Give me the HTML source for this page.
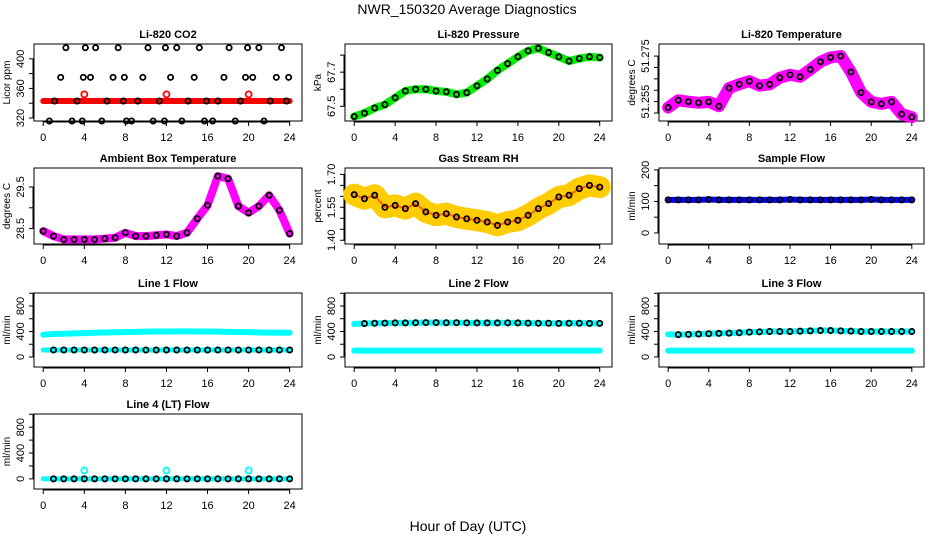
<!DOCTYPE html>
<html><head><meta charset="utf-8"><style>
html,body{margin:0;padding:0;background:#fff;}
svg{display:block;font-family:"Liberation Sans",sans-serif;}
</style></head><body>
<svg id="chart" width="936" height="540" viewBox="0 0 936 540">
<text x="467" y="14" text-anchor="middle" font-size="14">NWR_150320  Average Diagnostics</text>
<text x="468" y="531" text-anchor="middle" font-size="14">Hour of Day (UTC)</text>
</svg>
<script>
const hours = [0,1,2,3,4,5,6,7,8,9,10,11,12,13,14,15,16,17,18,19,20,21,22,23,24];
const xTicks = [0,4,8,12,16,20,24];
const co2Red = [343,343,343,343,343,343,343,343,343,343,343,343,343,343,343,343,343,343,343,343,343,343,343,343,343];
const co2RedOutX = [4,12,20];
const co2RedOutY = [352,352,352];
const co2BlackX = [0.6,1.1,1.7,2.2,2.8,3.3,3.8,3.9,4.1,4.6,5.1,5.7,6.2,6.8,7.3,7.8,7.9,8.1,8.6,9.2,9.7,10.2,10.7,11.3,11.8,11.9,12.4,13.0,13.5,14.1,14.7,15.2,15.7,15.9,16.5,17.0,17.6,18.1,18.7,19.2,19.7,19.9,20.4,21.0,21.5,22.1,22.7,23.2,23.7,23.9];
const co2BlackY = [316,343,375,415,316,343,316,375,415,375,415,316,343,375,415,343,375,316,316,343,375,415,316,343,316,415,375,415,316,343,375,415,316,343,316,343,375,415,316,343,375,415,375,415,316,343,375,415,343,375];
const pressure = [67.44,67.46,67.49,67.51,67.55,67.59,67.60,67.60,67.59,67.585,67.57,67.58,67.62,67.66,67.71,67.75,67.79,67.825,67.84,67.815,67.79,67.765,67.78,67.79,67.786];
const liTemp = [51.2524,51.2556,51.2550,51.2545,51.2549,51.2530,51.2610,51.2626,51.2640,51.2620,51.2626,51.2655,51.2668,51.2659,51.2691,51.2725,51.2744,51.2750,51.2680,51.2590,51.2549,51.2540,51.2549,51.2495,51.2482];
const ambTemp = [28.44,28.32,28.24,28.24,28.24,28.24,28.26,28.28,28.40,28.32,28.32,28.34,28.36,28.32,28.40,28.74,29.06,29.76,29.70,29.04,28.88,29.04,29.30,28.94,28.38];
const gasRH = [1.608,1.589,1.605,1.550,1.559,1.544,1.567,1.529,1.514,1.521,1.506,1.498,1.491,1.483,1.468,1.483,1.491,1.514,1.544,1.567,1.597,1.605,1.635,1.650,1.642];
const sampleFlow = [105,105,105,105,106,105,105,105,105,105,105,105,106,105,105,105,105,105,105,105,106,105,105,105,105];
const line1Upper = [350,360,365,370,375,380,385,388,390,395,398,400,400,402,402,400,400,398,395,392,390,385,382,380,380];
const line1Lower = [110,110,110,110,110,110,110,110,110,110,110,110,110,110,110,110,110,110,110,110,110,110,110,110,110];
const line2Upper = [520,525,530,532,535,535,538,540,540,538,538,536,535,535,535,536,535,532,530,530,528,530,530,528,528];
const line2Lower = [100,100,100,100,100,100,100,100,100,100,100,100,100,100,100,100,100,100,100,100,100,100,100,100,100];
const line3Upper = [355,350,355,360,365,370,375,380,390,395,400,400,400,405,410,415,415,410,405,400,400,400,400,400,400];
const line3Lower = [100,100,100,100,100,100,100,100,100,100,100,100,100,100,100,100,100,100,100,100,100,100,100,100,100];
const line4Flow = [0,0,0,0,0,0,0,0,0,0,0,0,0,0,0,0,0,0,0,0,0,0,0,0,0];
const line4OutX = [4,12,20];
const line4OutY = [130,130,130];

const NS="http://www.w3.org/2000/svg";
const svg=document.getElementById('chart');
function el(tag,attrs,parent){const e=document.createElementNS(NS,tag);for(const k in attrs)e.setAttribute(k,attrs[k]);(parent||svg).appendChild(e);return e;}
const cols=[[34,302],[345,612],[659,924]];
const rows=[[44,121],[168,244],[293,367],[414,489]];

function panel(name,c,r,title,ytitle,ymin,ymax,yticks,ylabels){
  const g=el('g',{});
  
  
  const [L,R]=cols[c],[T,B]=rows[r];
  const xs=v=>L+(v+0.9)/26.1*(R-L);
  const ys=v=>B-(v-ymin)/(ymax-ymin)*(B-T);
  const box=el('rect',{x:L,y:T,width:R-L,height:B-T,fill:'none',stroke:'#000','stroke-width':1},g);
  
  
  const t=el('text',{x:(L+R)/2,y:T-6,'text-anchor':'middle','font-size':11,'font-weight':'bold'},g);
  t.textContent=title;
  
  
  el('line',{x1:xs(0),x2:xs(24),y1:B+1,y2:B+1,stroke:'#000'},g);
  xTicks.forEach(v=>{
    el('line',{x1:xs(v),x2:xs(v),y1:B,y2:B+5,stroke:'#000'},g);
    const tl=el('text',{x:xs(v),y:B+20,'text-anchor':'middle','font-size':11},g);
    tl.textContent=v;
    
    
  });
  el('line',{x1:L-1,x2:L-1,y1:ys(yticks[0]),y2:ys(yticks[yticks.length-1]),stroke:'#000'},g);
  yticks.forEach((v,i)=>{
    el('line',{x1:L-5,x2:L,y1:ys(v),y2:ys(v),stroke:'#000'},g);
    if(ylabels[i]!==''){
      const yl=el('text',{x:0,y:0,'text-anchor':'middle','font-size':11,transform:`translate(${L-10},${ys(v)}) rotate(-90)`},g);
      yl.textContent=ylabels[i];
      
      
    }
  });
  const yt=el('text',{x:0,y:0,'text-anchor':'middle','font-size':10,transform:`translate(${L-24},${(T+B)/2}) rotate(-90)`},g);
  yt.textContent=ytitle;
  
  
  return {g,xs,ys};
}
function band(p,xv,yv,color,w,name){
  const pts=xv.map((x,i)=>p.xs(x)+','+p.ys(yv[i])).join(' ');
  const pl=el('polyline',{points:pts,fill:'none',stroke:color,'stroke-width':w,'stroke-linejoin':'round','stroke-linecap':'round'},p.g);
  
  
}
function pts(p,xv,yv,color,r,name){
  xv.forEach((x,i)=>{
    const c=el('circle',{cx:p.xs(x),cy:p.ys(yv[i]),r:r,fill:'none',stroke:color,'stroke-width':1.8},p.g);
    
    
  });
}
const flowTicks=[0,200,400,600,800,1000], flowLabels=['0','','400','','800',''];

let p=panel('panel-co2',0,0,'Li-820 CO2','Licor ppm',316,420,[320,340,360,380,400],['320','','360','','400']);
band(p,hours,co2Red,'#ff0000',6,'co2-red-band');
pts(p,co2RedOutX,co2RedOutY,'#ff0000',3,'co2-red-point');
pts(p,co2BlackX,co2BlackY,'#000',2.6,'co2-black-point');

p=panel('panel-pressure',1,0,'Li-820 Pressure','kPa',67.414,67.865,[67.5,67.6,67.7,67.8],['67.5','','67.7','']);
band(p,hours,pressure,'#00ee00',8,'pressure-green-band');
pts(p,hours,pressure,'#000',2.6,'pressure-black-point');

p=panel('panel-li-temperature',2,0,'Li-820 Temperature','degrees C',51.2465,51.2803,[51.25,51.255,51.26,51.265,51.27,51.275],['','51.255','','','','51.275']);
band(p,hours,liTemp,'#ff00ff',12,'litemp-magenta-band');
pts(p,hours,liTemp,'#000',2.6,'litemp-black-point');

p=panel('panel-ambient-temperature',0,1,'Ambient Box Temperature','degrees C',28.13,29.956,[28.5,29.0,29.5],['28.5','','29.5']);
band(p,hours,ambTemp,'#ff00ff',8,'ambient-magenta-band');
pts(p,hours,ambTemp,'#000',2.6,'ambient-black-point');

p=panel('panel-gas-rh',1,1,'Gas Stream RH','percent',1.383,1.729,[1.40,1.45,1.50,1.55,1.60,1.65,1.70],['1.40','','','1.55','','','1.70']);
band(p,hours,gasRH,'#ffcc00',22,'rh-yellow-band');
band(p,hours,gasRH,'#ff6600',2,'rh-orange-trace');
pts(p,hours,gasRH,'#000',2.6,'rh-black-point');

p=panel('panel-sample-flow',2,1,'Sample Flow','ml/min',-35,206,[0,50,100,150,200],['0','','100','','200']);
band(p,hours,sampleFlow,'#0000ff',6,'sample-blue-band');
pts(p,hours,sampleFlow,'#000',2.6,'sample-black-point');

p=panel('panel-line1-flow',0,2,'Line 1 Flow','ml/min',-157,1004,flowTicks,flowLabels);
band(p,hours,line1Upper,'#00ffff',6,'line1-cyan-upper');
band(p,hours,line1Lower,'#00ffff',5,'line1-cyan-lower');
pts(p,hours.slice(1),line1Lower.slice(1),'#000',2.6,'line1-black-point');

p=panel('panel-line2-flow',1,2,'Line 2 Flow','ml/min',-157,1004,flowTicks,flowLabels);
band(p,hours,line2Upper,'#00ffff',6,'line2-cyan-upper');
band(p,hours,line2Lower,'#00ffff',6,'line2-cyan-lower');
pts(p,hours.slice(1),line2Upper.slice(1),'#000',2.6,'line2-black-point');

p=panel('panel-line3-flow',2,2,'Line 3 Flow','ml/min',-157,1004,flowTicks,flowLabels);
band(p,hours,line3Upper,'#00ffff',6,'line3-cyan-upper');
band(p,hours,line3Lower,'#00ffff',6,'line3-cyan-lower');
pts(p,hours.slice(1),line3Upper.slice(1),'#000',2.6,'line3-black-point');

p=panel('panel-line4-flow',0,3,'Line 4 (LT) Flow','ml/min',-157,1004,flowTicks,flowLabels);
band(p,hours,line4Flow,'#00ffff',5,'line4-cyan-band');
pts(p,line4OutX,line4OutY,'#00ffff',3,'line4-cyan-outlier');
pts(p,hours.slice(1),line4Flow.slice(1),'#000',2.6,'line4-black-point');
</script>
</body></html>
